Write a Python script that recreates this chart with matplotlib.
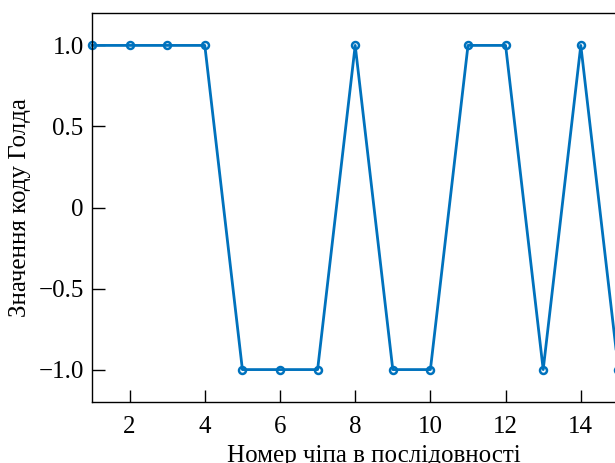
import matplotlib.pyplot as plt

# Код Голда: номер чіпа та значення
chips = list(range(1, 16))
gold_code = [1, 1, 1, 1, -1, -1, -1, 1, -1, -1, 1, 1, -1, 1, -1]
x_ticks = [2, 4, 6, 8, 10, 12, 14]
y_ticks = [-1.0, -0.5, 0, 0.5, 1.0]
y_tick_labels = ['\u22121.0', '\u22120.5', '0', '0.5', '1.0']

plt.rcParams['font.family'] = ['Liberation Serif', 'DejaVu Serif']
plt.rcParams['font.size'] = 18

fig = plt.figure(figsize=(6.15, 4.63), dpi=100)
ax = fig.add_axes([92 / 615, 61 / 463, 564 / 615, 389 / 463])

ax.plot(chips, gold_code, color='#0072BD', linewidth=2, marker='o',
        markersize=5, markerfacecolor='none', markeredgewidth=1.8, clip_on=False)

ax.set_xlim(1, 16)
ax.set_ylim(-1.2, 1.2)
ax.set_xticks(x_ticks)
ax.set_yticks(y_ticks)
ax.set_yticklabels(y_tick_labels)
ax.tick_params(axis='x', direction='in', length=9, width=1, top=False, pad=10)
ax.tick_params(axis='y', direction='in', length=9, width=1, right=False, pad=6)

for side in ['left', 'bottom', 'top']:
    ax.spines[side].set_linewidth(1)
ax.spines['right'].set_visible(False)

ax.set_xlabel('Номер чіпа в послідовності', labelpad=5)
ax.set_ylabel('Значення коду Голда', labelpad=5)

fig.savefig('out.png', dpi=100)
